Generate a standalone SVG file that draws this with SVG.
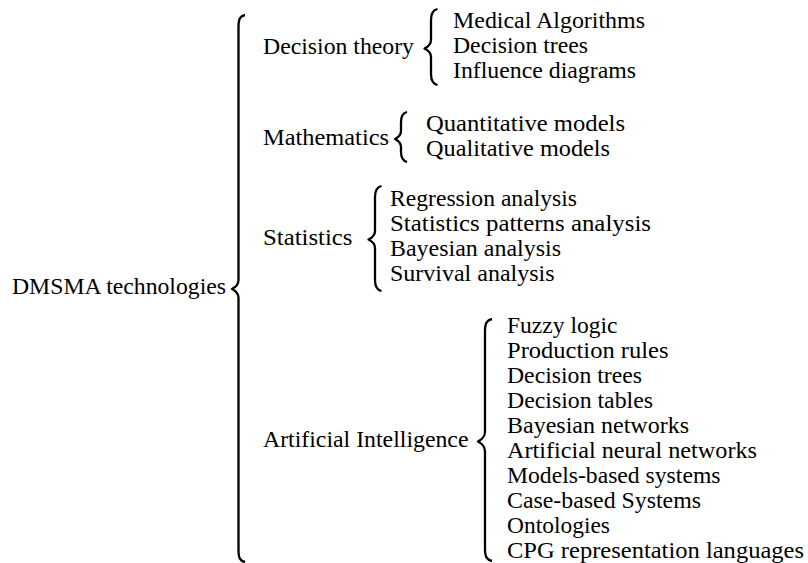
<svg xmlns="http://www.w3.org/2000/svg" width="808" height="563" viewBox="0 0 808 563">
  <style>
    .lbl { font-size: 22.5px; fill: #000; }
    .brace { fill: none; stroke: #000; stroke-width: 2.3; stroke-linecap: butt; stroke-linejoin: round; }
  </style>
  <rect width="808" height="563" fill="#fff"/>

  <!-- curly braces joining each level to its children -->
  <g id="connectors">
    <path class="brace" d="M245,15 C240,16 238.5,19 238.5,27 L238.5,280 C238.5,285 234,288 232,289 C234,290 238.5,293 238.5,298 L238.5,550 C238.5,558 240,561 245,562"/>
    <path class="brace" d="M437.5,9 C433,10 431,13 431,20 L431,40 C431,45 426.5,47.5 424.5,48.5 C426.5,49.5 431,52 431,57 L431,74 C431,81 433,84 437.5,85"/>
    <path class="brace" d="M407,112 C403,113 401,116 401,122 L401,131 C401,135 397,138 395,139 C397,140 401,143 401,147 L401,152 C401,158 403,161 407,162"/>
    <path class="brace" d="M381.5,186 C377,187 375,190 375,197 L375,231 C375,236 370.5,238.5 368.5,239.5 C370.5,240.5 375,243 375,248 L375,280 C375,287 377,290 381.5,291"/>
    <path class="brace" d="M492,319 C487,320 485,323 485,331 L485,432 C485,437 480,440.5 478,441.5 C480,442.5 485,446 485,451 L485,549 C485,557 487,560 492,561"/>
  </g>

  <g font-family="'Liberation Serif', 'DejaVu Serif', serif">
  <g id="root">
    <text class="lbl" x="12" y="294" textLength="214" lengthAdjust="spacingAndGlyphs">DMSMA technologies</text>
  </g>

  <g id="decision-theory">
    <text class="lbl" x="263" y="54" textLength="151" lengthAdjust="spacingAndGlyphs">Decision theory</text>
  </g>
  <g id="decision-theory-items">
    <text class="lbl" x="453" y="28" textLength="192" lengthAdjust="spacingAndGlyphs">Medical Algorithms</text>
    <text class="lbl" x="453" y="53" textLength="135" lengthAdjust="spacingAndGlyphs">Decision trees</text>
    <text class="lbl" x="453" y="78" textLength="183" lengthAdjust="spacingAndGlyphs">Influence diagrams</text>
  </g>

  <g id="mathematics">
    <text class="lbl" x="263" y="144.5" textLength="126" lengthAdjust="spacingAndGlyphs">Mathematics</text>
  </g>
  <g id="mathematics-items">
    <text class="lbl" x="426" y="130.5" textLength="199" lengthAdjust="spacingAndGlyphs">Quantitative models</text>
    <text class="lbl" x="426" y="155.5" textLength="184" lengthAdjust="spacingAndGlyphs">Qualitative models</text>
  </g>

  <g id="statistics">
    <text class="lbl" x="263" y="245" textLength="89.5" lengthAdjust="spacingAndGlyphs">Statistics</text>
  </g>
  <g id="statistics-items">
    <text class="lbl" x="390" y="206" textLength="187" lengthAdjust="spacingAndGlyphs">Regression analysis</text>
    <text class="lbl" x="390" y="231" textLength="261" lengthAdjust="spacingAndGlyphs">Statistics patterns analysis</text>
    <text class="lbl" x="390" y="256" textLength="171" lengthAdjust="spacingAndGlyphs">Bayesian analysis</text>
    <text class="lbl" x="390" y="281" textLength="164.5" lengthAdjust="spacingAndGlyphs">Survival analysis</text>
  </g>

  <g id="artificial-intelligence">
    <text class="lbl" x="263" y="447" textLength="205.5" lengthAdjust="spacingAndGlyphs">Artificial Intelligence</text>
  </g>
  <g id="artificial-intelligence-items">
    <text class="lbl" x="507" y="333" textLength="110.5" lengthAdjust="spacingAndGlyphs">Fuzzy logic</text>
    <text class="lbl" x="507" y="358" textLength="161.5" lengthAdjust="spacingAndGlyphs">Production rules</text>
    <text class="lbl" x="507" y="383" textLength="135" lengthAdjust="spacingAndGlyphs">Decision trees</text>
    <text class="lbl" x="507" y="408" textLength="146" lengthAdjust="spacingAndGlyphs">Decision tables</text>
    <text class="lbl" x="507" y="433" textLength="182" lengthAdjust="spacingAndGlyphs">Bayesian networks</text>
    <text class="lbl" x="507" y="458" textLength="250" lengthAdjust="spacingAndGlyphs">Artificial neural networks</text>
    <text class="lbl" x="507" y="483" textLength="213.5" lengthAdjust="spacingAndGlyphs">Models-based systems</text>
    <text class="lbl" x="507" y="508" textLength="194" lengthAdjust="spacingAndGlyphs">Case-based Systems</text>
    <text class="lbl" x="507" y="533" textLength="103" lengthAdjust="spacingAndGlyphs">Ontologies</text>
    <text class="lbl" x="507" y="558" textLength="297" lengthAdjust="spacingAndGlyphs">CPG representation languages</text>
  </g>
  </g>
</svg>
